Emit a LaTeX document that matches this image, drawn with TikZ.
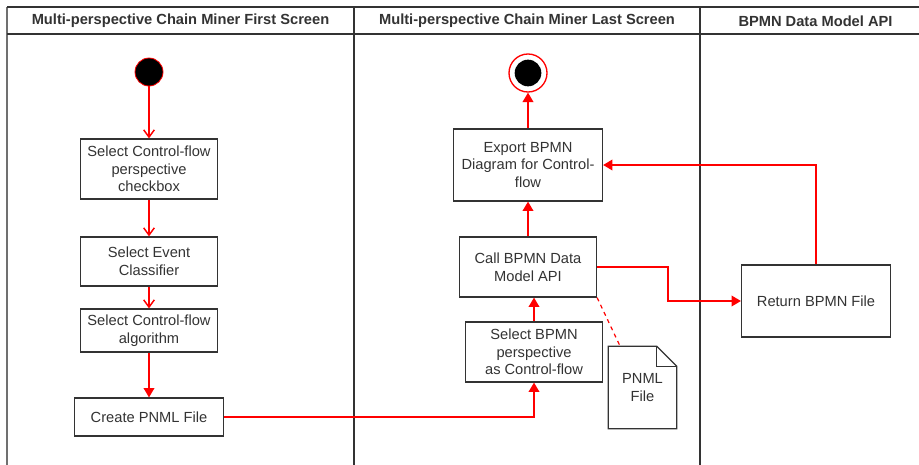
\documentclass[tikz,border=0pt]{standalone}
\usepackage{fontspec}
\setmainfont{Liberation Sans}
\usetikzlibrary{arrows.meta}
\definecolor{ink}{HTML}{333333}
\definecolor{flow}{HTML}{FF0000}
\begin{document}
\begin{tikzpicture}[x=0.75pt,y=-0.75pt,
  every node/.style={font=\fontsize{11}{13.2}\selectfont, text=ink},
  lane/.style={draw=ink, line width=1.4pt},
  action/.style={draw=ink, line width=0.9pt, fill=white, align=center, inner sep=0pt},
  flowline/.style={draw=flow, line width=1.1pt},
  openarrow/.style={flowline, -{Straight Barb[length=5.5pt,width=8pt]}},
  solidarrow/.style={flowline, -{Triangle[length=7pt,width=8pt]}},
  lanetitle/.style={font=\bfseries\fontsize{11}{13.2}\selectfont}
]
\useasboundingbox (0,0) rectangle (919,464);

% swimlane frame
\draw[lane, draw=ink!70] (7,7) -- (7,470);
\draw[lane] (7,7) -- (925,7);
\draw[lane, line width=0.9pt] (7,34) -- (925,34);
\draw[lane] (354,7) -- (354,470);
\draw[lane] (700,7) -- (700,470);

\node[lanetitle] (t1) at (180.5,21) {Multi-perspective Chain Miner First Screen};
\node[lanetitle] (t2) at (527,21) {Multi-perspective Chain Miner Last Screen};
\node[lanetitle] (t3) at (815.5,21) {BPMN Data Model API};

% initial and final states
\node[circle, fill=black, draw=flow, line width=0.6pt, minimum size=21pt, inner sep=0pt] (start) at (149,72) {};
\node[circle, draw=flow, line width=1pt, minimum size=28.5pt, inner sep=0pt] (final) at (528,73) {};
\node[circle, fill=black, minimum size=20pt, inner sep=0pt] (finalcore) at (528,73) {};

% actions, first screen
\node[action, minimum width=102.75pt, minimum height=45pt] (b1) at (149,169)
  {Select Control-flow\\perspective\\checkbox};
\node[action, minimum width=102.75pt, minimum height=36.75pt] (b2) at (149,261.5)
  {Select Event\\Classifier};
\node[action, minimum width=102.75pt, minimum height=32.25pt] (b3) at (149,330.5)
  {Select Control-flow\\algorithm};
\node[action, minimum width=111.75pt, minimum height=28.5pt] (b4) at (149,417)
  {Create PNML File};

% actions, last screen
\node[action, minimum width=102.75pt, minimum height=45pt] (s1) at (534,352)
  {Select BPMN\\perspective\\as Control-flow};
\node[action, minimum width=102.75pt, minimum height=45pt] (call) at (528,267)
  {Call BPMN Data\\Model API};
\node[action, minimum width=111.75pt, minimum height=54pt] (export) at (528,165)
  {Export BPMN\\Diagram for Control-\\flow};

% API lane
\node[action, minimum width=111.75pt, minimum height=54pt] (ret) at (816,301)
  {Return BPMN File};

% PNML document with folded corner
\node[minimum width=51pt, minimum height=61.5pt, inner sep=0pt, align=center] (doc) at (642.5,387.5)
  {PNML\\File};
\draw[ink, line width=0.9pt, fill=white]
  (doc.north west) -- ([xshift=-15pt]doc.north east) -- ([yshift=-15pt]doc.north east)
  -- (doc.south east) -- (doc.south west) -- cycle;
\draw[ink, line width=0.9pt]
  ([xshift=-15pt]doc.north east) -- ([xshift=-15pt,yshift=-15pt]doc.north east)
  -- ([yshift=-15pt]doc.north east);
\node[align=center] (doctext) at (doc.center) {PNML\\File};

% control flow
\draw[openarrow] (start) -- (b1);
\draw[openarrow] (b1) -- (b2);
\draw[openarrow] (b2) -- (b3);
\draw[solidarrow] (b3) -- (b4);
\draw[solidarrow] (b4.east) -| (s1.south);
\draw[solidarrow] (s1) -- (s1 |- call.south);
\draw[solidarrow] (call) -- (export);
\draw[solidarrow] (export) -- (final);
\coordinate (bend) at (668,267);
\draw[solidarrow] (call.east) -- (bend) |- (ret.west);
\draw[solidarrow] (ret.north) |- (export.east);

% data association
\coordinate (doctop) at (620,346);
\draw[flowline, line width=0.9pt, dash pattern=on 3pt off 3pt] (call.south east) -- (doctop);
\end{tikzpicture}
\end{document}
